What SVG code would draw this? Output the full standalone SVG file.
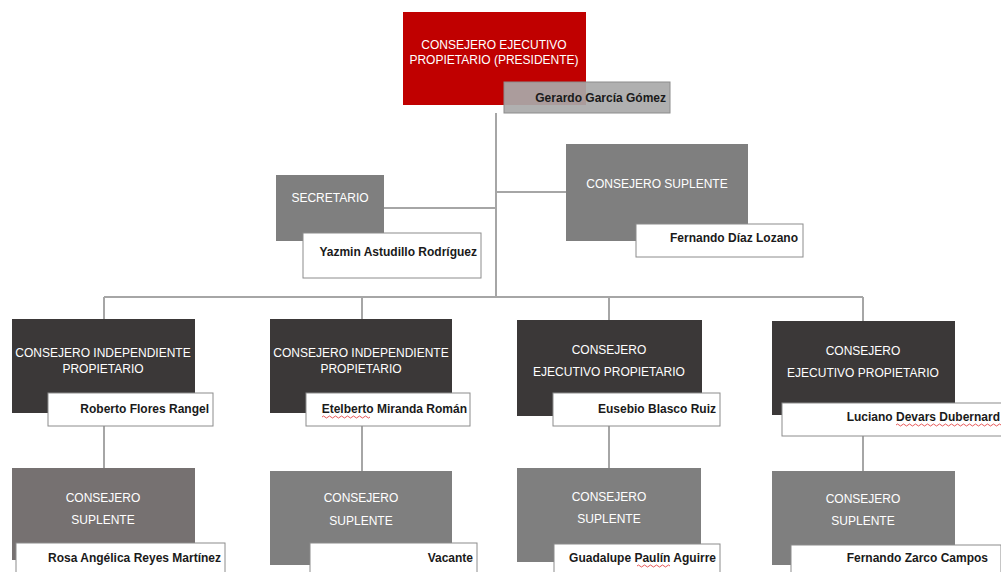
<svg xmlns="http://www.w3.org/2000/svg" width="1001" height="572" viewBox="0 0 1001 572">
<style>
.t{font-family:"Liberation Sans",Arial,sans-serif;font-size:12px;fill:#ffffff;text-anchor:middle}
.n{font-family:"Liberation Sans",Arial,sans-serif;font-size:12px;font-weight:bold;fill:#1a1a1a;text-anchor:end}
.nb{fill:#ffffff;stroke:#8c8c8c;stroke-width:1}
.dark{fill:#3b3838}
.grey{fill:#7f7f7f}
.line{stroke:#a6a6a6;stroke-width:2;fill:none}
.sq{stroke:#e03030;stroke-width:0.8;fill:none}
</style>
<rect width="1001" height="572" fill="#ffffff"/>
<g id="connectors">
<path class="line" d="M496 113 V297"/>
<path class="line" d="M384 208 H496"/>
<path class="line" d="M496 192 H566"/>
<path class="line" d="M104 297 H863"/>
<path class="line" d="M104 297 V319"/>
<path class="line" d="M362 297 V319"/>
<path class="line" d="M609 297 V320"/>
<path class="line" d="M863 297 V321"/>
<path class="line" d="M104 426 V468"/>
<path class="line" d="M362 426 V471"/>
<path class="line" d="M609 426 V468"/>
<path class="line" d="M863 436 V471"/>
</g>
<g id="presidente">
<rect x="403" y="12" width="183" height="93" fill="#c00000"/>
<text class="t" x="494" y="49">CONSEJERO EJECUTIVO</text>
<text class="t" x="494" y="64">PROPIETARIO (PRESIDENTE)</text>
<rect x="504" y="82" width="166" height="31" fill="#a9a9a9" fill-opacity="0.92" stroke="#8c8c8c"/>
<text class="n" x="666" y="102">Gerardo García Gómez</text>
</g>
<g id="secretario">
<rect class="grey" x="276" y="175" width="108" height="66"/>
<text class="t" x="330" y="202">SECRETARIO</text>
<rect class="nb" x="303" y="233" width="178" height="45"/>
<text class="n" x="477" y="256">Yazmin Astudillo Rodríguez</text>
</g>
<g id="suplente-presidente">
<rect class="grey" x="566" y="144" width="182" height="97"/>
<text class="t" x="657" y="188">CONSEJERO SUPLENTE</text>
<rect class="nb" x="636" y="224" width="167" height="33"/>
<text class="n" x="798" y="242">Fernando Díaz Lozano</text>
</g>
<g id="consejero1">
<rect class="dark" x="12" y="319" width="183" height="94"/>
<text class="t" x="103" y="357">CONSEJERO INDEPENDIENTE</text>
<text class="t" x="103" y="373">PROPIETARIO</text>
<rect class="nb" x="48" y="393" width="165" height="33"/>
<text class="n" x="209" y="413">Roberto Flores Rangel</text>
</g>
<g id="consejero2">
<rect class="dark" x="270" y="319" width="182" height="94"/>
<text class="t" x="361" y="357">CONSEJERO INDEPENDIENTE</text>
<text class="t" x="361" y="373">PROPIETARIO</text>
<rect class="nb" x="306" y="393" width="164" height="33"/>
<text class="n" x="467" y="413">Etelberto Miranda Román</text>
<path class="sq" d="M322 417 q1.5 -2 3 0 t3 0 t3 0 t3 0 t3 0 t3 0 t3 0 t3 0 t3 0 t3 0 t3 0 t3 0 t3 0 t3 0 t3 0 t3 0"/>
</g>
<g id="consejero3">
<rect class="dark" x="517" y="320" width="185" height="96"/>
<text class="t" x="609" y="354">CONSEJERO</text>
<text class="t" x="609" y="376">EJECUTIVO PROPIETARIO</text>
<rect class="nb" x="553" y="393" width="167" height="33"/>
<text class="n" x="716" y="413">Eusebio Blasco Ruiz</text>
</g>
<g id="consejero4">
<rect class="dark" x="772" y="321" width="183" height="94"/>
<text class="t" x="863" y="355">CONSEJERO</text>
<text class="t" x="863" y="377">EJECUTIVO PROPIETARIO</text>
<rect class="nb" x="782" y="403" width="230" height="33"/>
<text class="n" x="1000" y="421">Luciano Devars Dubernard</text>
<path class="sq" d="M896 425 q1.5 -2 3 0 t3 0 t3 0 t3 0 t3 0 t3 0 t3 0 t3 0 t3 0 t3 0 t3 0 t3 0 t3 0 t3 0 t3 0 t3 0 t3 0 t3 0 t3 0 t3 0 t3 0 t3 0 t3 0 t3 0 t3 0 t3 0 t3 0 t3 0 t3 0 t3 0 t3 0 t3 0 t3 0 t3 0 t3 0"/>
</g>
<g id="suplente1">
<rect x="12" y="468" width="183" height="92" fill="#767171"/>
<text class="t" x="103" y="502">CONSEJERO</text>
<text class="t" x="103" y="524">SUPLENTE</text>
<rect class="nb" x="16" y="543" width="209" height="40"/>
<text class="n" x="221" y="562">Rosa Angélica Reyes Martínez</text>
</g>
<g id="suplente2">
<rect class="grey" x="270" y="471" width="182" height="94"/>
<text class="t" x="361" y="502">CONSEJERO</text>
<text class="t" x="361" y="525">SUPLENTE</text>
<rect class="nb" x="310" y="543" width="167" height="40"/>
<text class="n" x="473" y="562">Vacante</text>
</g>
<g id="suplente3">
<rect class="grey" x="517" y="468" width="184" height="94"/>
<text class="t" x="609" y="501">CONSEJERO</text>
<text class="t" x="609" y="523">SUPLENTE</text>
<rect class="nb" x="554" y="544" width="166" height="40"/>
<text class="n" x="716" y="562">Guadalupe Paulín Aguirre</text>
<path class="sq" d="M637 566 q1.5 -2 3 0 t3 0 t3 0 t3 0 t3 0 t3 0 t3 0 t3 0 t3 0 t3 0 t3 0"/>
</g>
<g id="suplente4">
<rect class="grey" x="772" y="471" width="183" height="94"/>
<text class="t" x="863" y="503">CONSEJERO</text>
<text class="t" x="863" y="525">SUPLENTE</text>
<rect class="nb" x="791" y="545" width="210" height="40"/>
<text class="n" x="988" y="562">Fernando Zarco Campos</text>
</g>
</svg>
